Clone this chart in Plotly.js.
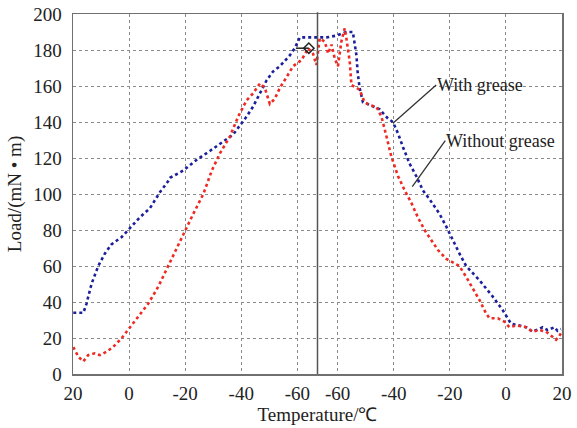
<!DOCTYPE html>
<html>
<head>
<meta charset="utf-8">
<script src="https://cdn.plot.ly/plotly-3.0.1.min.js"></script>
<style>html,body{margin:0;padding:0;background:#fff;}#chart{width:577px;height:428px;}</style>
</head>
<body>
<div id="chart"></div>
<script>
// Temperature cycle: 20 -> min -> 20 ; x = degrees travelled along the cycle
var tickTemps = [20, 0, -20, -40, -60, -60, -40, -20, 0, 20];
var minTemp = -67.2;

// With grease (blue)
var withX = [0.1,3.7,4.8,6.6,9.0,11.4,13.7,17.3,20.3,23.8,27.4,31.0,33.9,34.6,39.3,44.1,48.9,53.5,57.1,59.5,61.9,64.2,66.7,69.0,71.3,73.8,77.3,79.1,80.9,86.8,90.4,94.0,97.5,99.8,101.1,101.5,102.2,103.4,105.1,109.4,112.3,114.1,115.9,117.7,120.0,122.4,124.8,127.2,130.7,133.1,135.5,137.8,140.2,145.0,149.7,153.2,156.2,158.6,161.6,163.9,166.3,167.5,169.3,171.7,172.8,174.0];
var withY = [34,34,39,50,60,67,72,76,81,87,92,101,107,109,113,119,124,129,133,138,143,148.5,156,163,168,171,177,181,187,187,187,188,190,190,177,168,159,151,150,147,142,140,133.7,126,117,110,102,97,89,82,74,67,60,52,43,35.6,28,27,26,23.5,25,26,24.4,26,24,25];

// Without grease (red)
var withoutX = [0.1,1.9,3.7,5.4,7.8,9.6,12.0,14.3,17.3,20.3,23.2,26.8,30.4,33.9,37.5,40.4,42.9,46.5,49.5,52.4,56.0,58.9,61.9,64.3,66.7,68.4,70.2,72.0,73.8,76.2,78.5,81.5,83.9,85.6,86.8,88.0,89.8,91.0,92.2,93.4,94.5,95.7,96.9,97.5,98.7,99.3,100.5,102.2,104.0,105.8,108.2,110.0,111.8,113.5,115.9,118.3,120.7,123.0,125.4,127.8,130.1,133.1,134.3,137.8,140.2,142.6,145.0,147.3,148.5,151.5,153.9,155.6,158.0,161.6,163.9,166.3,168.7,171.0,172.3,173.4,174.0];
var withoutY = [15,9.6,7,10.5,11.5,10.5,12.4,15,19.8,26,32,39,48.5,60,71,81,89,100,113,122.6,132,143,152,156,161.5,159,150,153,159,165,171,174.4,181,178,171.7,186.5,184.6,178,183,175,171,184.6,192,186.5,173.5,160.5,159.6,158,151,149.4,148.5,143,132,121,110,102,95,87,80,74,69,64,63,60,54,47.6,41,33.7,31,31,29,26,27,26,23.5,24.4,23.5,20.7,19,21,22.6];

// small reference marker near the turning point
var markX = [79.5, 84.1];
var markY = [181, 181];

// positions of ticks along the cycle
var tickPos = [];
var pos = 0;
for (var i = 0; i < tickTemps.length; i++) {
  if (i > 0) {
    var a = tickTemps[i-1], b = tickTemps[i];
    if (a === b) pos += 2 * (a - minTemp); else pos += Math.abs(a - b);
  }
  tickPos.push(pos);
}
var minPos = tickPos[4] + (tickTemps[4] - minTemp);

var serif = "Liberation Serif, Times New Roman, serif";

var traces = [
  {x: withX, y: withY, mode: 'lines', line: {color: '#1c1f9c', width: 2.6, dash: 'dot'}, hoverinfo: 'skip'},
  {x: withoutX, y: withoutY, mode: 'lines', line: {color: '#ee2a22', width: 2.6, dash: 'dot'}, hoverinfo: 'skip'},
  {x: markX, y: markY, mode: 'lines', line: {color: '#222', width: 1.5}, hoverinfo: 'skip'},
  {x: [markX[1]], y: [markY[1]], mode: 'markers', marker: {symbol: 'diamond-open', size: 8, color: '#222', line: {width: 1.5, color: '#222'}}, hoverinfo: 'skip'}
];

var layout = {
  width: 577, height: 428,
  margin: {l: 73, r: 15, t: 14, b: 54},
  paper_bgcolor: '#fff', plot_bgcolor: '#fff',
  showlegend: false,
  font: {family: serif, color: '#222', size: 19},
  xaxis: {
    range: [tickPos[0], tickPos[tickPos.length-1]],
    tickmode: 'array', tickvals: tickPos, ticktext: tickTemps.map(String),
    showgrid: true, gridcolor: '#8a8a8a', gridwidth: 1, griddash: 'dot',
    zeroline: false, showline: true, linecolor: '#707070', linewidth: 1.5, mirror: true,
    ticks: '', ticklabelstandoff: 2,
    tickfont: {family: serif, size: 19, color: '#222'},
    title: {text: 'Temperature/℃', font: {family: serif, size: 19, color: '#222'}, standoff: 4}
  },
  yaxis: {
    range: [0, 200], dtick: 20, tick0: 0,
    showgrid: true, gridcolor: '#8a8a8a', gridwidth: 1, griddash: 'dot',
    zeroline: false, showline: true, linecolor: '#707070', linewidth: 1.5, mirror: true,
    ticks: '', ticklabelstandoff: 6,
    tickfont: {family: serif, size: 19, color: '#222'},
    title: {text: 'Load/(mN • m)', font: {family: serif, size: 19, color: '#222'}, standoff: 6}
  },
  shapes: [
    {type: 'line', xref: 'x', yref: 'paper', x0: minPos, x1: minPos, y0: 0, y1: 1.005, line: {color: '#555', width: 1.5}}
  ],
  annotations: [
    {x: 114.2, y: 139.4, xref: 'x', yref: 'y', text: 'With grease', showarrow: true, arrowhead: 0, arrowwidth: 1.3, arrowcolor: '#333',
     ax: 43, ay: -38, xanchor: 'left', yanchor: 'middle', font: {family: serif, size: 18, color: '#222'}, borderpad: 0},
    {x: 121.0, y: 104.1, xref: 'x', yref: 'y', text: 'Without grease', showarrow: true, arrowhead: 0, arrowwidth: 1.3, arrowcolor: '#333',
     ax: 33, ay: -46, xanchor: 'left', yanchor: 'middle', font: {family: serif, size: 18, color: '#222'}, borderpad: 0}
  ]
};

Plotly.newPlot('chart', traces, layout, {displayModeBar: false, staticPlot: true});
</script>
</body>
</html>
